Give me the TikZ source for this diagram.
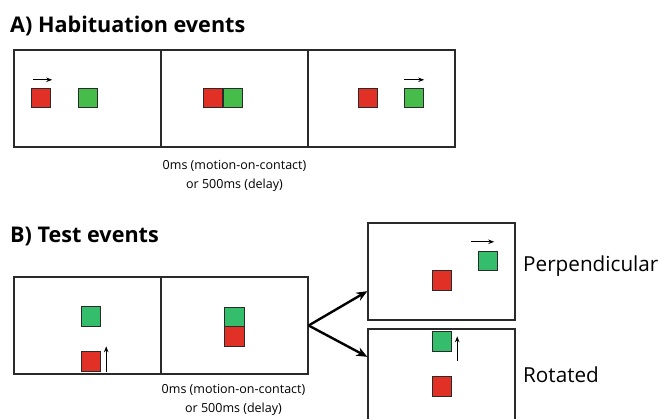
\documentclass[tikz,border=0pt]{standalone}
\usepackage{fontspec}
\setmainfont{Open Sans}
\usetikzlibrary{arrows.meta,calc}
\definecolor{sqred}{HTML}{E13127}
\definecolor{hgreen}{HTML}{46BC4B}
\definecolor{tgreen}{HTML}{34BE6B}
\definecolor{edge}{HTML}{2A2A2A}
\begin{document}
\begin{tikzpicture}[x=1pt,y=-1pt,
  panel/.style={draw=edge,line width=1.3pt,minimum width=147pt,minimum height=97pt,inner sep=0pt},
  sq/.style={draw=edge,line width=0.9pt,minimum size=19.5pt,inner sep=0pt},
  motion/.style={line width=0.9pt,-{Stealth[length=6pt,width=4.5pt]}},
  branch/.style={line width=2.4pt,-{Stealth[length=11pt,width=9pt]}},
  titletext/.style={font=\bfseries\fontsize{21.6}{26}\selectfont,anchor=base west,inner sep=0pt},
  captext/.style={font=\fontsize{12.5}{19}\selectfont,align=center,inner sep=0pt},
  labtext/.style={font=\fontsize{20.7}{24}\selectfont,anchor=base west,inner sep=0pt}]
\clip (0,0) rectangle (662,419);
\useasboundingbox (0,0) rectangle (662,419);
% titles
\node[titletext] (ta) at (10,33) {A) Habituation events};
\node[titletext] (tb) at (10,243) {B) Test events};
% habituation panels
\node[panel] (h1) at (87.5,98.5) {};
\node[panel] (h2) at (234.5,98.5) {};
\node[panel] (h3) at (381.5,98.5) {};
\node[sq,fill=sqred] (h1r) at (41,98) {};
\node[sq,fill=hgreen] (h1g) at (88,98) {};
\node[sq,fill=sqred] (h2r) at (213,98) {};
\node[sq,fill=hgreen] (h2g) at (233,98) {};
\node[sq,fill=sqred] (h3r) at (368,98) {};
\node[sq,fill=hgreen] (h3g) at (414,98) {};
\draw[motion] ($(h1r.north west)+(2,-8)$) coordinate (a1s) -- ($(h1r.north east)+(1,-8)$) coordinate (a1e);
\draw[motion] ($(h3g.north west)+(0,-8)$) coordinate (a3s) -- ($(h3g.north east)+(0,-8)$) coordinate (a3e);
\node[captext] (ca) at (234.5,175.5) {0ms (motion-on-contact)\\or 500ms (delay)};
% test panels
\node[panel] (t1) at (87.5,325.5) {};
\node[panel] (t2) at (234.5,325.5) {};
\node[sq,fill=tgreen] (t1g) at (91,316.5) {};
\node[sq,fill=sqred] (t1r) at (91,361.5) {};
\draw[motion] ($(t1r.south east)+(5,0)$) coordinate (u1s) -- ($(t1r.north east)+(5,-5)$) coordinate (u1e);
\node[sq,fill=tgreen] (t2g) at (234.5,317) {};
\node[sq,fill=sqred] (t2r) at (234.5,336.5) {};
\node[captext] (cb) at (233.5,399.5) {0ms (motion-on-contact)\\or 500ms (delay)};
% outcome panels
\node[panel] (p) at (441.5,271.5) {};
\node[panel] (r) at (441.5,377.5) {};
\node[sq,fill=sqred] (pr) at (442,280.5) {};
\node[sq,fill=tgreen] (pg) at (488,261) {};
\draw[motion] ($(pg.north west)+(-7,-9)$) coordinate (p1s) -- ($(pg.north east)+(-4,-9)$) coordinate (p1e);
\node[sq,fill=tgreen] (rg) at (442,341.5) {};
\node[sq,fill=sqred] (rr) at (442,386.5) {};
\draw[motion] ($(rg.south east)+(5,9)$) coordinate (r1s) -- ($(rg.north east)+(5,5)$) coordinate (r1e);
\node[labtext] (lp) at (523,272) {Perpendicular};
\node[labtext] (lr) at (523,382.5) {Rotated};
% branch arrows
\draw[branch] (t2.east) -- ($(p.south west)!0.3!(p.north west)$);
\draw[branch] (t2.east) -- ($(r.north west)!0.29!(r.south west)$);
\end{tikzpicture}
\end{document}
